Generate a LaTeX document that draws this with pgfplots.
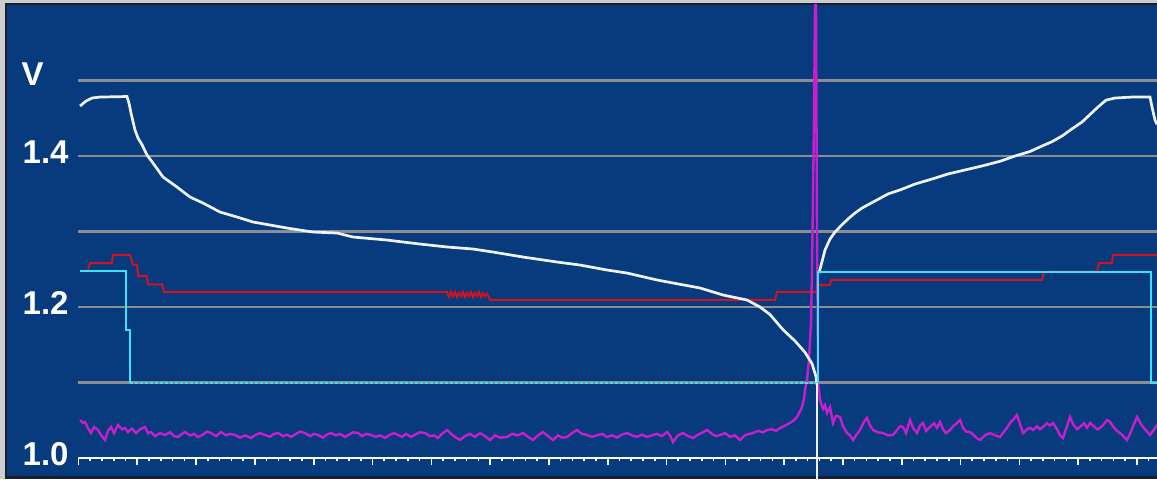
\documentclass[border=0pt]{standalone}
\usepackage{fontspec}
\setmainfont{Liberation Sans}
\usepackage{pgfplots}
\pgfplotsset{compat=1.18}
\definecolor{panel}{RGB}{7,59,126}
\definecolor{framegray}{RGB}{205,205,208}
\definecolor{framedark}{RGB}{25,30,45}
\definecolor{gridgray}{RGB}{140,140,145}
\definecolor{redc}{RGB}{205,20,32}
\definecolor{cyanc}{RGB}{60,225,245}
\definecolor{magc}{RGB}{200,30,205}
\definecolor{whitec}{RGB}{238,242,250}
\begin{document}
\begin{tikzpicture}
\path[use as bounding box] (-39pt,-10.5pt) rectangle (539.5pt,229pt);
\fill[framegray] (-39pt,-10.5pt) rectangle (539.5pt,229pt);
\fill[framedark] (-36.5pt,-10.5pt) rectangle (539.5pt,227.5pt);
\fill[panel] (-35.5pt,-9pt) rectangle (539.5pt,226.5pt);
\begin{axis}[
  at={(0pt,0pt)}, anchor=south west,
  scale only axis, width=539.5pt, height=226.5pt,
  xmin=78, xmax=1157, ymin=1.0, ymax=1.6,
  clip=false,
  axis x line*=bottom, axis y line*=left,
  x axis line style={draw=white, line width=1pt},
  y axis line style={draw=none},
  xtick={78.5,137.3,...,1160},
  minor xtick={78.5,90.26,...,1160},
  xticklabels={},
  tick align=outside,
  major tick length=3.5pt, minor tick length=1.6pt,
  major x tick style={white, line width=0.8pt},
  minor x tick style={white, line width=0.8pt},
  major y tick style={draw=none},
  ytick={1.0,1.1,1.2,1.3,1.4},
  yticklabels={1.0,,1.2,,1.4},
  extra y ticks={1.5}, extra y tick labels={V},
  extra y tick style={grid=major, yticklabel style={xshift=-12.5pt, yshift=1pt}},
  ymajorgrids, grid style={gridgray, line width=1.1pt},
  yticklabel style={font=\bfseries\fontsize{16.5pt}{16.5pt}\selectfont, text=white, anchor=east, inner sep=0pt, xshift=-1pt, yshift=2pt},
]
% red
\addplot[redc, line width=1pt] coordinates {
(80,1.248)(88,1.248)(90,1.258)(112,1.258)(113,1.269)(130,1.269)(133,1.256)(137,1.256)(138,1.241)(147,1.241)(148,1.230)(162,1.230)(164,1.220)
(447,1.220)(449,1.213)(451,1.220)(453,1.214)(455,1.220)(457,1.213)(459,1.219)(461,1.214)(463,1.220)(465,1.213)(467,1.219)(469,1.214)(471,1.220)(473,1.213)(475,1.219)(477,1.214)(479,1.220)(481,1.213)(483,1.218)(485,1.214)(487,1.218)(489,1.213)(490,1.2095)
(775,1.2095)(777,1.220)(816,1.220)(818,1.229)(830,1.229)(831,1.236)(1042,1.236)(1044,1.247)(1097,1.247)(1099,1.258)(1112,1.258)(1113,1.269)(1157,1.269)};
% magenta
\addplot[magc, line width=1.2pt] coordinates {
(80,1.0503)(83,1.0464)(85,1.0477)(88,1.0397)(91,1.0331)(94,1.0410)(98,1.0371)(101,1.0305)(105,1.0238)(108,1.0360)(111,1.0411)(114,1.0330)(118,1.0437)(122,1.0380)(125,1.0397)(128,1.0344)(132,1.0390)(136,1.0330)(140,1.0380)(145,1.0411)(148,1.0330)(151,1.0344)(155,1.0290)(160,1.0330)(165,1.0305)(170,1.0340)(174,1.0290)(178,1.0278)(182,1.0320)(185,1.0344)(190,1.0300)(194,1.0320)(198,1.0278)(203,1.0310)(207,1.0350)(211,1.0331)(216,1.0290)(221,1.0344)(226,1.0300)(230,1.0320)(235,1.0305)(240,1.0270)(245,1.0300)(251,1.0265)(256,1.0310)(260,1.0330)(265,1.0305)(270,1.0280)(274,1.0320)(278,1.0331)(283,1.0290)(287,1.0310)(291,1.0278)(296,1.0320)(300,1.0350)(305,1.0331)(310,1.0290)(314,1.0320)(318,1.0305)(323,1.0270)(327,1.0310)(331,1.0331)(336,1.0300)(340,1.0320)(345,1.0278)(349,1.0310)(353,1.0340)(358,1.0331)(362,1.0290)(366,1.0320)(371,1.0305)(376,1.0280)(380,1.0300)(385,1.0265)(390,1.0310)(394,1.0330)(398,1.0305)(402,1.0280)(406,1.0320)(411,1.0278)(415,1.0310)(420,1.0340)(425,1.0331)(430,1.0290)(434,1.0300)(438,1.0265)(442,1.0320)(447,1.0371)(452,1.0310)(456,1.0270)(460,1.0238)(465,1.0290)(470,1.0320)(475,1.0280)(480,1.0331)(485,1.0290)(490,1.0238)(495,1.0300)(500,1.0270)(507,1.0278)(512,1.0320)(518,1.0300)(523,1.0331)(528,1.0280)(533,1.0238)(538,1.0300)(543,1.0344)(548,1.0290)(553,1.0238)(558,1.0300)(562,1.0270)(567,1.0278)(572,1.0330)(577,1.0371)(582,1.0320)(587,1.0305)(592,1.0280)(597,1.0300)(602,1.0320)(607,1.0278)(612,1.0300)(617,1.0270)(622,1.0310)(627,1.0331)(632,1.0300)(637,1.0280)(642,1.0310)(647,1.0278)(652,1.0300)(657,1.0320)(662,1.0290)(667,1.0344)(670,1.0300)(673,1.0212)(678,1.0300)(683,1.0331)(688,1.0290)(693,1.0265)(698,1.0310)(703,1.0340)(707,1.0371)(712,1.0320)(716,1.0290)(720,1.0305)(725,1.0330)(730,1.0280)(735,1.0300)(740,1.0238)(745,1.0300)(749,1.0320)(753,1.0331)(758,1.0360)(763,1.0340)(767,1.0371)(772,1.0380)(776,1.0360)(780,1.0397)(785,1.0430)(790,1.0464)(794,1.0500)(797,1.0543)(800,1.0620)(802,1.0675)(804,1.0780)(805,1.0901)(807,1.1033)(809,1.1300)(811,1.1800)(812,1.2500)(813,1.3500)(814,1.4500)(815,1.6000)(816,1.6000)(817,1.3000)(818,1.0993)(819,1.0900)(820,1.0768)(823,1.0650)(825,1.0700)(827,1.0596)(830,1.0675)(833,1.0464)(836,1.0560)(840,1.0543)(843,1.0420)(847,1.0331)(850,1.0300)(853,1.0238)(856,1.0300)(860,1.0371)(864,1.0480)(867,1.0530)(870,1.0430)(873,1.0371)(878,1.0340)(883,1.0331)(888,1.0300)(893,1.0305)(897,1.0370)(900,1.0420)(903,1.0411)(906,1.0330)(910,1.0503)(913,1.0400)(917,1.0331)(920,1.0430)(923,1.0464)(926,1.0360)(930,1.0411)(934,1.0460)(937,1.0400)(940,1.0477)(943,1.0380)(946,1.0330)(950,1.0371)(953,1.0420)(956,1.0450)(960,1.0503)(963,1.0400)(966,1.0350)(970,1.0344)(974,1.0300)(977,1.0260)(980,1.0238)(985,1.0300)(990,1.0331)(995,1.0300)(1000,1.0278)(1004,1.0350)(1007,1.0400)(1010,1.0464)(1014,1.0520)(1017,1.0570)(1020,1.0450)(1023,1.0331)(1027,1.0380)(1030,1.0400)(1033,1.0371)(1037,1.0420)(1040,1.0380)(1043,1.0411)(1047,1.0460)(1050,1.0430)(1053,1.0464)(1057,1.0380)(1060,1.0300)(1063,1.0265)(1067,1.0420)(1070,1.0543)(1073,1.0450)(1077,1.0380)(1080,1.0411)(1084,1.0460)(1087,1.0400)(1090,1.0464)(1094,1.0420)(1097,1.0380)(1100,1.0397)(1104,1.0450)(1107,1.0503)(1110,1.0480)(1114,1.0400)(1117,1.0360)(1120,1.0331)(1124,1.0280)(1127,1.0238)(1130,1.0320)(1134,1.0450)(1137,1.0543)(1140,1.0470)(1143,1.0411)(1147,1.0350)(1150,1.0305)(1153,1.0360)(1157,1.0437)};
% white voltage curve, discharge
\addplot[whitec, line width=1.35pt] coordinates {
(80,1.4662)(86,1.4728)(92,1.4768)(100,1.4781)(127,1.4788)(129,1.4700)(131,1.4570)(135,1.4344)(138,1.4238)(142,1.4150)(147,1.4013)(153,1.3907)(163,1.3722)(177,1.3589)(190,1.3457)(203,1.3377)(220,1.3258)(237,1.3192)(253,1.3126)(270,1.3086)(287,1.3046)(313,1.2993)(337,1.2980)(353,1.2927)(387,1.2887)(403,1.2861)(420,1.2834)(447,1.2795)(473,1.2768)(493,1.2728)(523,1.2662)(557,1.2596)(580,1.2556)(607,1.2490)(627,1.2450)(657,1.2358)(673,1.2318)(700,1.2252)(723,1.2159)(747,1.2093)(760,1.2000)(770,1.1900)(783,1.1700)(795,1.1550)(805,1.1400)(812,1.1250)(816,1.1080)(817,1.0970)};
% white voltage curve, charge
\addplot[whitec, line width=1.35pt] coordinates {
(819,1.2450)(822,1.2600)(825,1.2755)(830,1.2900)(835,1.2993)(842,1.3090)(848,1.3166)(855,1.3245)(862,1.3311)(875,1.3404)(888,1.3497)(900,1.3550)(915,1.3629)(932,1.3695)(948,1.3762)(965,1.3815)(982,1.3868)(1000,1.3930)(1015,1.4000)(1030,1.4060)(1042,1.4132)(1052,1.4190)(1062,1.4265)(1072,1.4360)(1082,1.4450)(1090,1.4550)(1098,1.4649)(1106,1.4740)(1115,1.4768)(1132,1.4781)(1150,1.4781)(1152,1.4649)(1155,1.4477)(1157,1.4420)};
% cyan
\addplot[cyanc, line width=1pt] coordinates {
(80,1.2477)(126,1.2477)(126,1.170)(130,1.170)(130,1.0993)};
\addplot[cyanc, line width=1pt, dash pattern=on 1.5pt off 1pt] coordinates {
(130,1.0993)(817,1.0993)};
\addplot[cyanc, line width=1pt] coordinates {
(818,1.0993)(818,1.2464)(1151,1.2464)(1151,1.0993)(1157,1.0993)};
% white cursor
\addplot[whitec, line width=1pt] coordinates {(817,1.0993)(817,0.972)};
\end{axis}
\end{tikzpicture}
\end{document}
